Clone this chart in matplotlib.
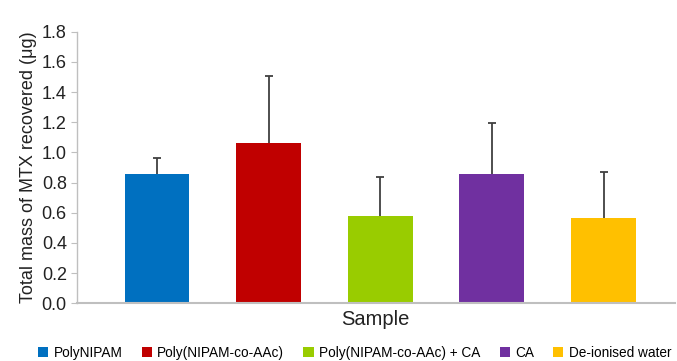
import matplotlib.pyplot as plt
import numpy as np

plt.rcParams['font.family'] = ['Liberation Sans', 'DejaVu Sans']

# Data
samples = ['PolyNIPAM', 'Poly(NIPAM-co-AAc)', 'Poly(NIPAM-co-AAc) + CA', 'CA', 'De-ionised water']
mass = [0.86, 1.06, 0.58, 0.86, 0.565]
err = [0.105, 0.445, 0.26, 0.335, 0.305]
colors = ['#0070c0', '#c00000', '#99cc00', '#7030a0', '#ffc000']

x = np.arange(len(samples))

fig = plt.figure(figsize=(6.77, 3.61), dpi=100)
ax = fig.add_axes([0.113, 0.16, 0.884, 0.752])

bars = ax.bar(x, mass, width=0.58, color=colors, label=samples, zorder=2)
eb = ax.errorbar(x, mass, yerr=[np.zeros(len(err)), err], fmt='none',
                 ecolor='#404040', elinewidth=1.3, capsize=3, capthick=1.3, zorder=3)
# only the upper cap is drawn in the original
eb[1][0].set_visible(False)

ax.set_xlim(-0.72, 4.64)
ax.set_ylim(0, 1.8)
ax.set_yticks(np.arange(0, 1.81, 0.2))
ax.set_yticklabels(['{:.1f}'.format(v) for v in np.arange(0, 1.81, 0.2)], fontsize=13)
ax.set_xticks([])

for s in ['top', 'right']:
    ax.spines[s].set_visible(False)
ax.spines['left'].set_color('#bfbfbf')
ax.spines['bottom'].set_color('#bfbfbf')
ax.spines['left'].set_linewidth(1.0)
ax.spines['bottom'].set_linewidth(1.5)
ax.tick_params(axis='y', colors='#bfbfbf', length=4, labelcolor='#222222', pad=3)

ax.set_ylabel('Total mass of MTX recovered (μg)', fontsize=13, color='#222222', labelpad=3)
ax.set_xlabel('Sample', fontsize=14.5, color='#222222', labelpad=5)

fig.legend(bars, samples, loc='lower center', bbox_to_anchor=(0.524, -0.03), ncol=5,
           frameon=False, fontsize=9.8, handlelength=0.75, handleheight=0.75,
           handletextpad=0.4, columnspacing=1.4)

fig.savefig('out.png', dpi=100)
